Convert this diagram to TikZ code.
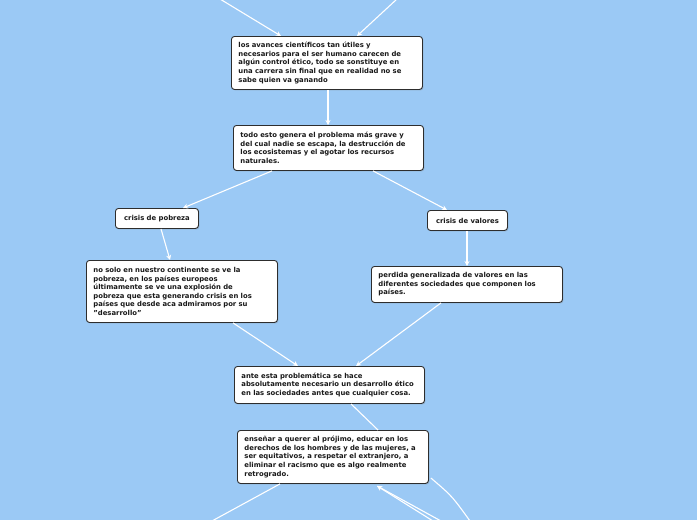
\documentclass[tikz,border=0pt]{standalone}
\usepackage{fontspec}
\setmainfont{DejaVu Sans}
\usetikzlibrary{calc,arrows.meta,shadows}
\definecolor{bg}{RGB}{155,201,245}
\definecolor{txt}{RGB}{25,25,25}
\definecolor{bord}{RGB}{45,45,45}
\tikzset{
  box/.style={draw=bord, line width=0.9pt, fill=white, rounded corners=3pt,
    anchor=north west, inner xsep=0pt, inner ysep=0pt, align=left,
    font=\fontsize{6.85}{8.6}\selectfont\bfseries, text=txt,
    drop shadow={shadow xshift=1pt, shadow yshift=-1pt, opacity=0.35}},
  conn/.style={draw=white, line width=1.1pt},
  arr/.style={conn, -{Stealth[length=5pt,width=5pt]}},
}
\begin{document}
\begin{tikzpicture}[x=1pt,y=-1pt]
\fill[bg] (0,0) rectangle (697,520);
\useasboundingbox (0,0) rectangle (697,520);

\node[box, minimum width=191pt, minimum height=53pt, text width=177pt, inner xsep=7pt] (b1) at (231,36)
 {los avances científicos tan útiles y\\necesarios para el ser humano carecen de\\algún control ético, todo se sonstituye en\\una carrera sin final que en realidad no se\\sabe quien va ganando};
\node[box, minimum width=190pt, minimum height=45pt, text width=176pt, inner xsep=7pt] (b2) at (233,125)
 {todo esto genera el problema más grave y\\del cual nadie se escapa, la destrucción de\\los ecosistemas y el agotar los recursos\\naturales.};
\node[box, minimum width=83pt, minimum height=20pt, align=center] (p) at (115,208) {crisis de pobreza};
\node[box, minimum width=80pt, minimum height=20pt, align=center] (v) at (427,210) {crisis de valores};
\node[box, minimum width=191pt, minimum height=62pt, text width=177pt, inner xsep=7pt] (ns) at (86,260)
 {no solo en nuestro continente se ve la\\pobreza, en los países europeos\\últimamente se ve una explosión de\\pobreza que esta generando crisis en los\\países que desde aca admiramos por su\\"desarrollo"};
\node[box, minimum width=191pt, minimum height=36pt, text width=177pt, inner xsep=7pt] (pd) at (371,266)
 {perdida generalizada de valores en las\\diferentes sociedades que componen los\\países.};
\node[box, minimum width=190pt, minimum height=37pt, text width=176pt, inner xsep=7pt] (an) at (234,366)
 {ante esta problemática se hace\\absolutamente necesario un desarrollo ético\\en las sociedades antes que cualquier cosa.};
\node[box, minimum width=191pt, minimum height=53pt, text width=177pt, inner xsep=7pt] (en) at (237,430)
 {enseñar a querer al prójimo, educar en los\\derechos de los hombres y de las mujeres, a\\ser equitativos, a respetar el extranjero, a\\eliminar el racismo que es algo realmente\\retrogrado.};

\coordinate (t1) at (220,-1);
\coordinate (t2) at (397,-1);
\coordinate (o1) at (212,521);
\coordinate (o2) at (470,521);
\coordinate (o3) at (433,521);
\coordinate (o4) at (441,521);

\draw[arr] (t1) -- ($(b1.north west)+(50,0)$);
\draw[arr] (t2) -- ($(b1.north west)+(126,0)$);
\draw[arr] ($(b1.south west)+(97,0)$) -- ($(b2.north west)+(95,0)$);
\draw[arr] ($(b2.south west)+(39,0)$) -- ($(p.north west)+(68,0)$);
\draw[arr] ($(b2.south west)+(140,0)$) -- ($(v.north west)+(20,0)$);
\draw[arr] ($(p.south west)+(46,0)$) -- ($(ns.north west)+(84,0)$);
\draw[arr] ($(v.south west)+(40,0)$) -- ($(pd.north west)+(96,0)$);
\draw[arr] ($(ns.south west)+(147,0)$) -- ($(an.north west)+(64,0)$);
\draw[arr] ($(pd.south west)+(70,0)$) -- ($(an.north west)+(122,0)$);
\draw[conn] ($(an.south west)+(117,0)$) -- ($(en.north west)+(141,0)$);
\draw[conn] ($(en.south west)+(43,0)$) -- (o1);
\draw[conn] ($(en.north east)+(2,48)$) .. controls (452,496) .. (o2);
\draw[arr] (o3) -- ($(en.south west)+(140,2)$);
\draw[arr] (o4) -- ($(en.south west)+(140,2)$);
\end{tikzpicture}
\end{document}
